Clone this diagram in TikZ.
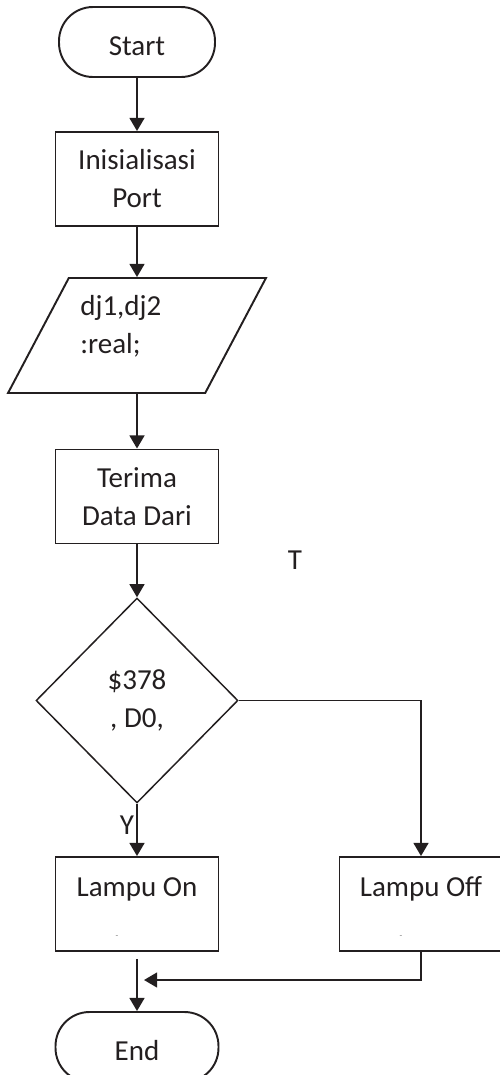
\documentclass[tikz,border=0pt]{standalone}
\usepackage{fontspec}
\setmainfont{Carlito}
\usetikzlibrary{shapes.geometric,arrows.meta}
\definecolor{ink}{HTML}{231F20}

\tikzset{
  line/.style={draw=ink, line width=1.1pt},
  arr/.style={line, -{Triangle[length=7.5pt,width=8.5pt]}},
  term/.style={line, rectangle, rounded corners=0.68cm, minimum width=3.12cm, minimum height=1.4cm,
    text height=0.55cm, text depth=0cm},
  box/.style={line, rectangle, minimum width=3.26cm, minimum height=1.88cm, align=center, inner sep=0pt},
  lampbox/.style={text height=0.4cm, text depth=0.72cm},
  io/.style={line, trapezium, trapezium left angle=66, trapezium right angle=114,
    trapezium stretches=true, minimum width=5.16cm, minimum height=2.3cm, inner sep=2pt},
  decision/.style={draw=ink, line width=0.85pt, diamond, minimum width=4.04cm, minimum height=4.1cm,
    inner sep=0pt, align=center},
  tickmark/.style={anchor=south, xshift=-0.4cm, yshift=0.14cm, text=gray,
    font=\fontsize{5}{5}\selectfont}
}

\begin{document}
\begin{tikzpicture}[x=0.02cm, y=-0.02cm, font=\fontsize{16.5}{21.6}\selectfont, text=ink]
  \useasboundingbox (0,0) rectangle (500,1075);

  % branch letters
  \node (tlbl) at (295,560) {T};
  \node (ylbl) at (127,825) {Y};

  % main column
  \node[term] (start) at (137,42) {Start};
  \node[box] (init) at (137,179) {Inisialisasi\\Port};
  \node[io] (vars) at (137,335.5) {};
  \node[anchor=west, align=left, inner sep=0pt] (varstxt) at (80,326) {dj1,dj2\\:real;};
  \node[box] (recv) at (137,496.5) {Terima\\Data Dari};
  \node[decision] (cek) at (137,700.5) {\$378\\, D0,};
  \node[box, lampbox, label={[tickmark]south:-}] (on) at (137,904) {Lampu On};
  \node[box, lampbox, label={[tickmark]south:-}] (off) at (421,904) {Lampu Off};
  \node[term, minimum width=3.26cm] (end) at (137,1047) {End};
  \coordinate (join) at (144,980);

  % connectors
  \draw[arr] (start) -- (init);
  \draw[arr] (init) -- (vars);
  \draw[arr] (vars) -- (recv);
  \draw[arr] (recv) -- (cek);
  \draw[arr] (cek) -- (on);
  \draw[arr] (cek.east) -| (off.north);
  \draw[arr, shorten <=4pt] (on) -- (end);
  \draw[arr] (off.south) |- (join);
\end{tikzpicture}
\end{document}
